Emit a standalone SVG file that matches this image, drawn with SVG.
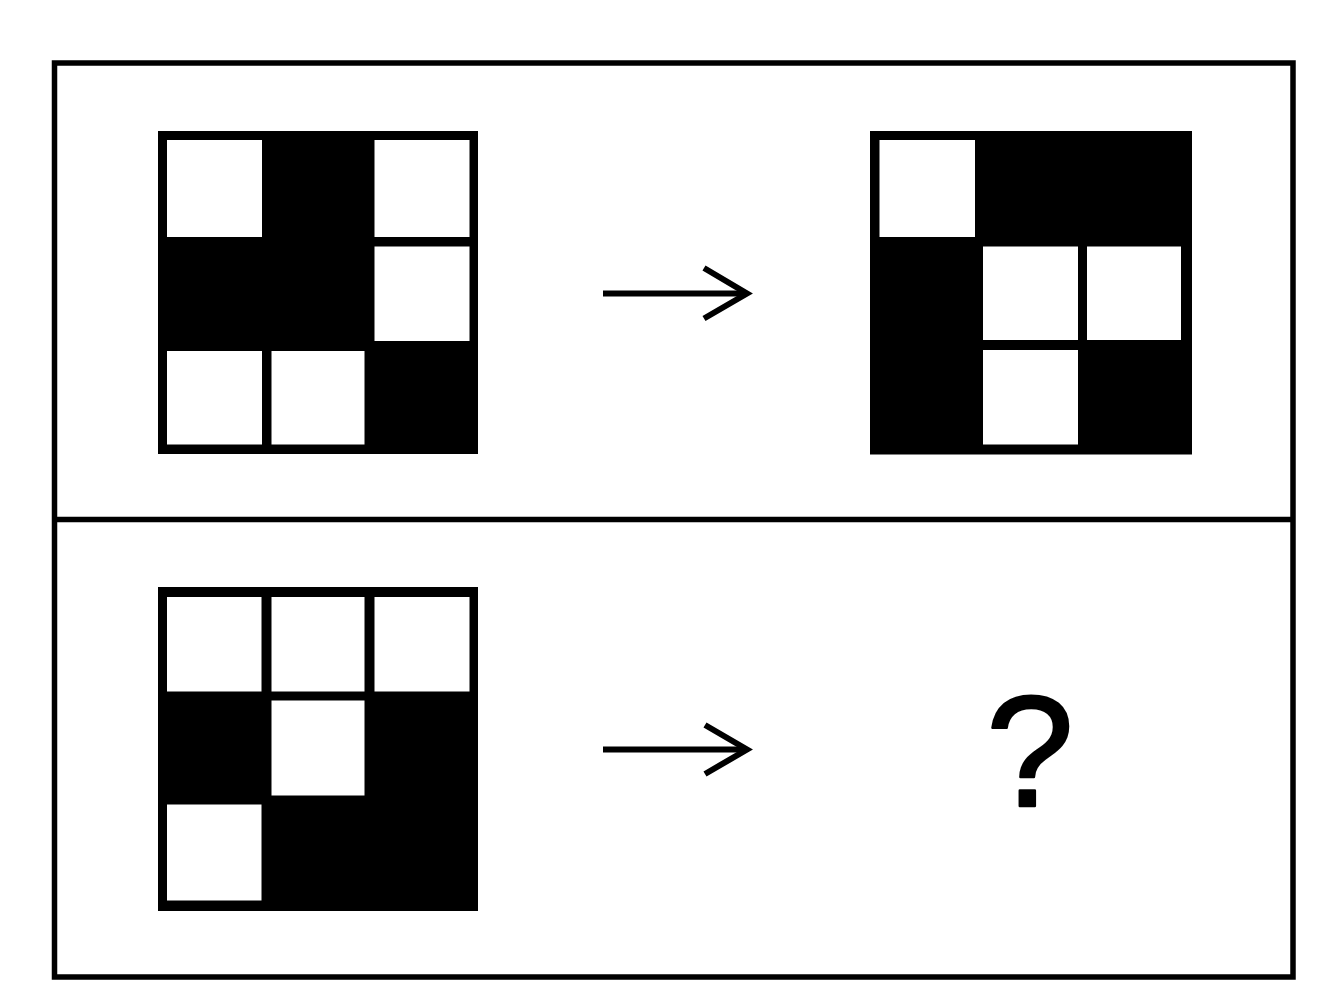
<svg xmlns="http://www.w3.org/2000/svg" width="1328" height="1008" viewBox="0 0 1328 1008">
<style>
.frame{fill:none;stroke:#000;stroke-width:5.5}
.grid{fill:#000}
.cell{fill:#fff}
.arr{fill:none;stroke:#000;stroke-width:6;stroke-linejoin:miter;stroke-miterlimit:10}
.q{font-family:"Liberation Sans",Arial,sans-serif;font-size:158px;fill:#000;stroke:#000;stroke-width:2.5;stroke-linejoin:round}
</style>
<rect width="1328" height="1008" fill="#fff"/>
<g id="frame">
<rect class="frame" x="54.5" y="63" width="1238.5" height="914"/>
<line class="frame" x1="54.5" y1="519.5" x2="1293" y2="519.5"/>
</g>
<g id="grid-a">
<rect class="grid" x="158" y="131" width="320" height="323"/>
<rect class="cell" x="167" y="140" width="95" height="97"/>
<rect class="cell" x="374.5" y="140" width="95" height="97"/>
<rect class="cell" x="374.5" y="246.5" width="95" height="94.5"/>
<rect class="cell" x="167" y="351" width="95" height="93.5"/>
<rect class="cell" x="271.5" y="351" width="93" height="93.5"/>
</g>
<g id="grid-b">
<rect class="grid" x="870" y="131" width="322" height="323.5"/>
<rect class="cell" x="879.5" y="140" width="95.5" height="97"/>
<rect class="cell" x="983" y="246.5" width="95" height="93.5"/>
<rect class="cell" x="1087" y="246.5" width="94" height="93.5"/>
<rect class="cell" x="983" y="350" width="95" height="94.5"/>
</g>
<g id="grid-c">
<rect class="grid" x="158" y="587" width="320" height="324"/>
<rect class="cell" x="167" y="597" width="94.5" height="94.5"/>
<rect class="cell" x="271.5" y="597" width="93" height="94.5"/>
<rect class="cell" x="374.5" y="597" width="95" height="94.5"/>
<rect class="cell" x="271.5" y="700.5" width="93" height="95"/>
<rect class="cell" x="167" y="804.5" width="94.5" height="96"/>
</g>
<g id="connectors">
<line class="arr" x1="603" y1="293.5" x2="742" y2="293.5"/>
<polyline class="arr" points="704,268 747,293.5 704,318.5"/>
<line class="arr" x1="603" y1="749.5" x2="742" y2="749.5"/>
<polyline class="arr" points="705,725 747,749.5 705,774"/>
</g>
<g id="answer">
<text class="q" x="1030" y="806" text-anchor="middle">?</text>
</g>
</svg>
